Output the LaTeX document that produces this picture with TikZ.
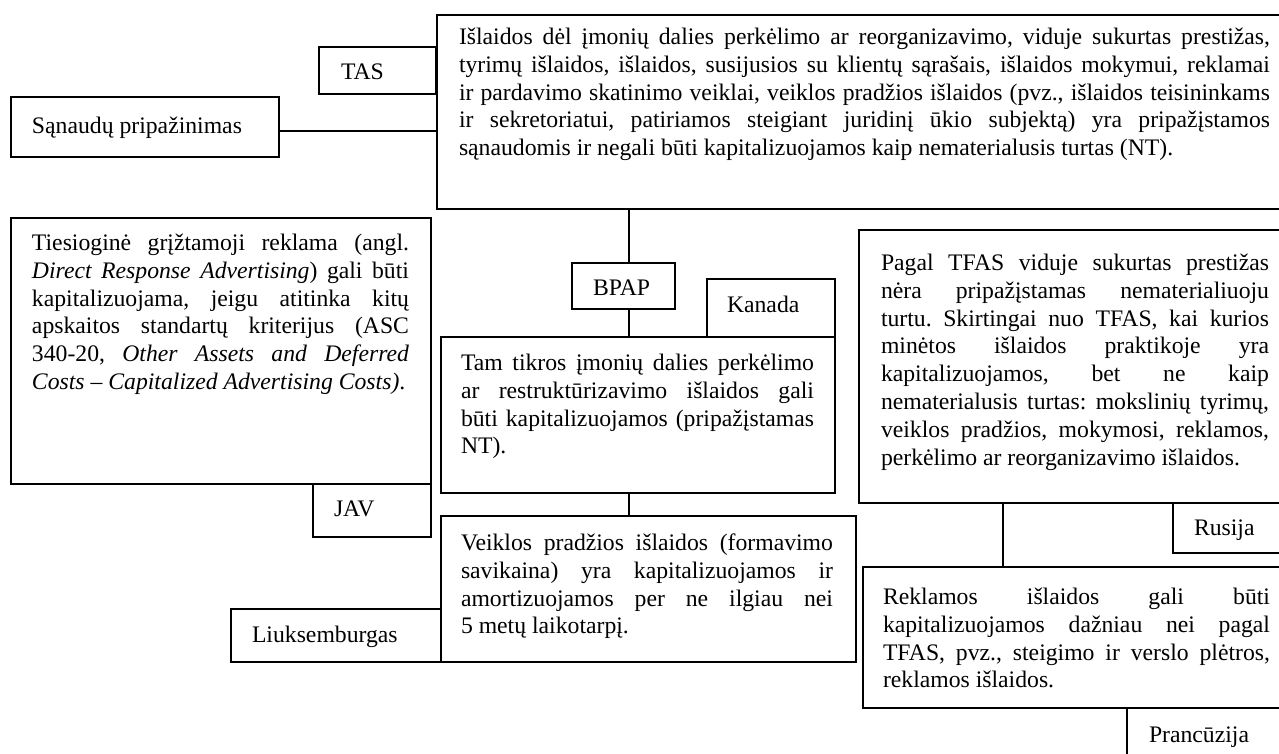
\documentclass[tikz,border=0pt]{standalone}
\usepackage{fontspec}
\setmainfont{Liberation Serif}
\hbadness=10000
\frenchspacing
\newcommand\mybox[5]{\node[box, minimum width={(#4-#2)*0.5pt}, minimum height={(#5-#3)*0.5pt}] (#1) at (#2,#3) {};}
\begin{document}
\begin{tikzpicture}[x=0.5pt,y=-0.5pt,
  box/.style={draw, line width=0.8pt, inner sep=0pt, outer sep=0pt, anchor=north west},
  txt/.style={inner sep=0pt, outer sep=0pt, anchor=north west, align=justify, font=\fontsize{11.85}{13.9}\selectfont\frenchspacing},
  lbl/.style={inner sep=0pt, outer sep=0pt, anchor=base west, font=\fontsize{11.85}{13.9}\selectfont},
  conn/.style={line width=0.8pt}]
\useasboundingbox (0,0) rectangle (1279,754);
\fill[white] (0,0) rectangle (1279,754);
\clip (0,0) rectangle (1279,754);

% boxes
\mybox{tas}{319}{47}{436}{94}
\mybox{sanaudu}{11}{97}{279}{157}
\mybox{topbox}{437}{15}{1290}{209}
\mybox{ties}{11}{218}{431}{484}
\mybox{jav}{313}{484}{431}{537}
\mybox{bpap}{572}{263}{675}{309}
\mybox{kanada}{707}{279}{835}{337}
\mybox{tam}{441}{337}{835}{493}
\mybox{veik}{441}{516}{856}{662}
\mybox{liuks}{231}{609}{441}{662}
\mybox{pagal}{859}{230}{1290}{503}
\mybox{rusija}{1173}{503}{1290}{553}
\mybox{rekl}{863}{567}{1290}{708}
\mybox{pranc}{1127}{708}{1290}{770}

% labels
\node[lbl] (tast) at (341,80) {TAS};
\node[lbl] (sanaudut) at (32,134) {Sąnaudų pripažinimas};
\node[lbl] (javt) at (334,516) {JAV};
\node[lbl] (bpapt) at (593,295) {BPAP};
\node[lbl] (kanadat) at (727,313) {Kanada};
\node[lbl] (liukst) at (252,642) {Liuksemburgas};
\node[lbl] (rusijat) at (1194,535) {Rusija};
\node[lbl] (pranct) at (1149,742) {Prancūzija};

% paragraph texts
\node[txt, text width=405.5pt] (topt) at (459,25) {\strut Išlaidos dėl įmonių dalies perkėlimo ar reorganizavimo, viduje sukurtas prestižas,\linebreak
tyrimų išlaidos, išlaidos, susijusios su klientų sąrašais, išlaidos mokymui, reklamai\linebreak
ir pardavimo skatinimo veiklai, veiklos pradžios išlaidos (pvz., išlaidos teisininkams\linebreak
ir sekretoriatui, patiriamos steigiant juridinį ūkio subjektą) yra pripažįstamos\linebreak
sąnaudomis ir negali būti kapitalizuojamos kaip nematerialusis turtas (NT).};

\node[txt, text width=188.5pt] (tiest) at (32,231) {\strut Tiesioginė grįžtamoji reklama (angl.\linebreak
\textit{Direct Response Advertising}) gali būti\linebreak
kapitalizuojama, jeigu atitinka kitų\linebreak
apskaitos standartų kriterijus (ASC\linebreak
340-20, \textit{Other Assets and Deferred\linebreak
Costs – Capitalized Advertising Costs)}.};

\node[txt, text width=176.5pt] (tamt) at (461,351) {\strut Tam tikros įmonių dalies perkėlimo\linebreak
ar restruktūrizavimo išlaidos gali\linebreak
būti kapitalizuojamos (pripažįstamas\linebreak
NT).};

\node[txt, text width=194pt] (pagalt) at (881,251) {\strut Pagal TFAS viduje sukurtas prestižas\linebreak
nėra pripažįstamas nematerialiuoju\linebreak
turtu. Skirtingai nuo TFAS, kai kurios\linebreak
minėtos išlaidos praktikoje yra\linebreak
kapitalizuojamos, bet ne kaip\linebreak
nematerialusis turtas: mokslinių tyrimų,\linebreak
veiklos pradžios, mokymosi, reklamos,\linebreak
perkėlimo ar reorganizavimo išlaidos.};

\node[txt, text width=186pt] (veikt) at (461,531) {\strut Veiklos pradžios išlaidos (formavimo\linebreak
savikaina) yra kapitalizuojamos ir\linebreak
amortizuojamos per ne ilgiau nei\linebreak
5 metų laikotarpį.};

\node[txt, text width=193.5pt] (reklt) at (883,585) {\strut Reklamos išlaidos gali būti\linebreak
kapitalizuojamos dažniau nei pagal\linebreak
TFAS, pvz., steigimo ir verslo plėtros,\linebreak
reklamos išlaidos.};

% connectors
\coordinate (cx) at (629,0);
\coordinate (rx) at (1003,0);
\draw[conn] ([yshift=-2pt]sanaudu.east) -- ([yshift=-2pt]sanaudu.east -| topbox.west);
\draw[conn] (topbox.south -| cx) -- (bpap.north -| cx);
\draw[conn] (bpap.south -| cx) -- (tam.north -| cx);
\draw[conn] (tam.south -| cx) -- (veik.north -| cx);
\draw[conn] (pagal.south -| rx) -- (rekl.north -| rx);
\end{tikzpicture}
\end{document}
